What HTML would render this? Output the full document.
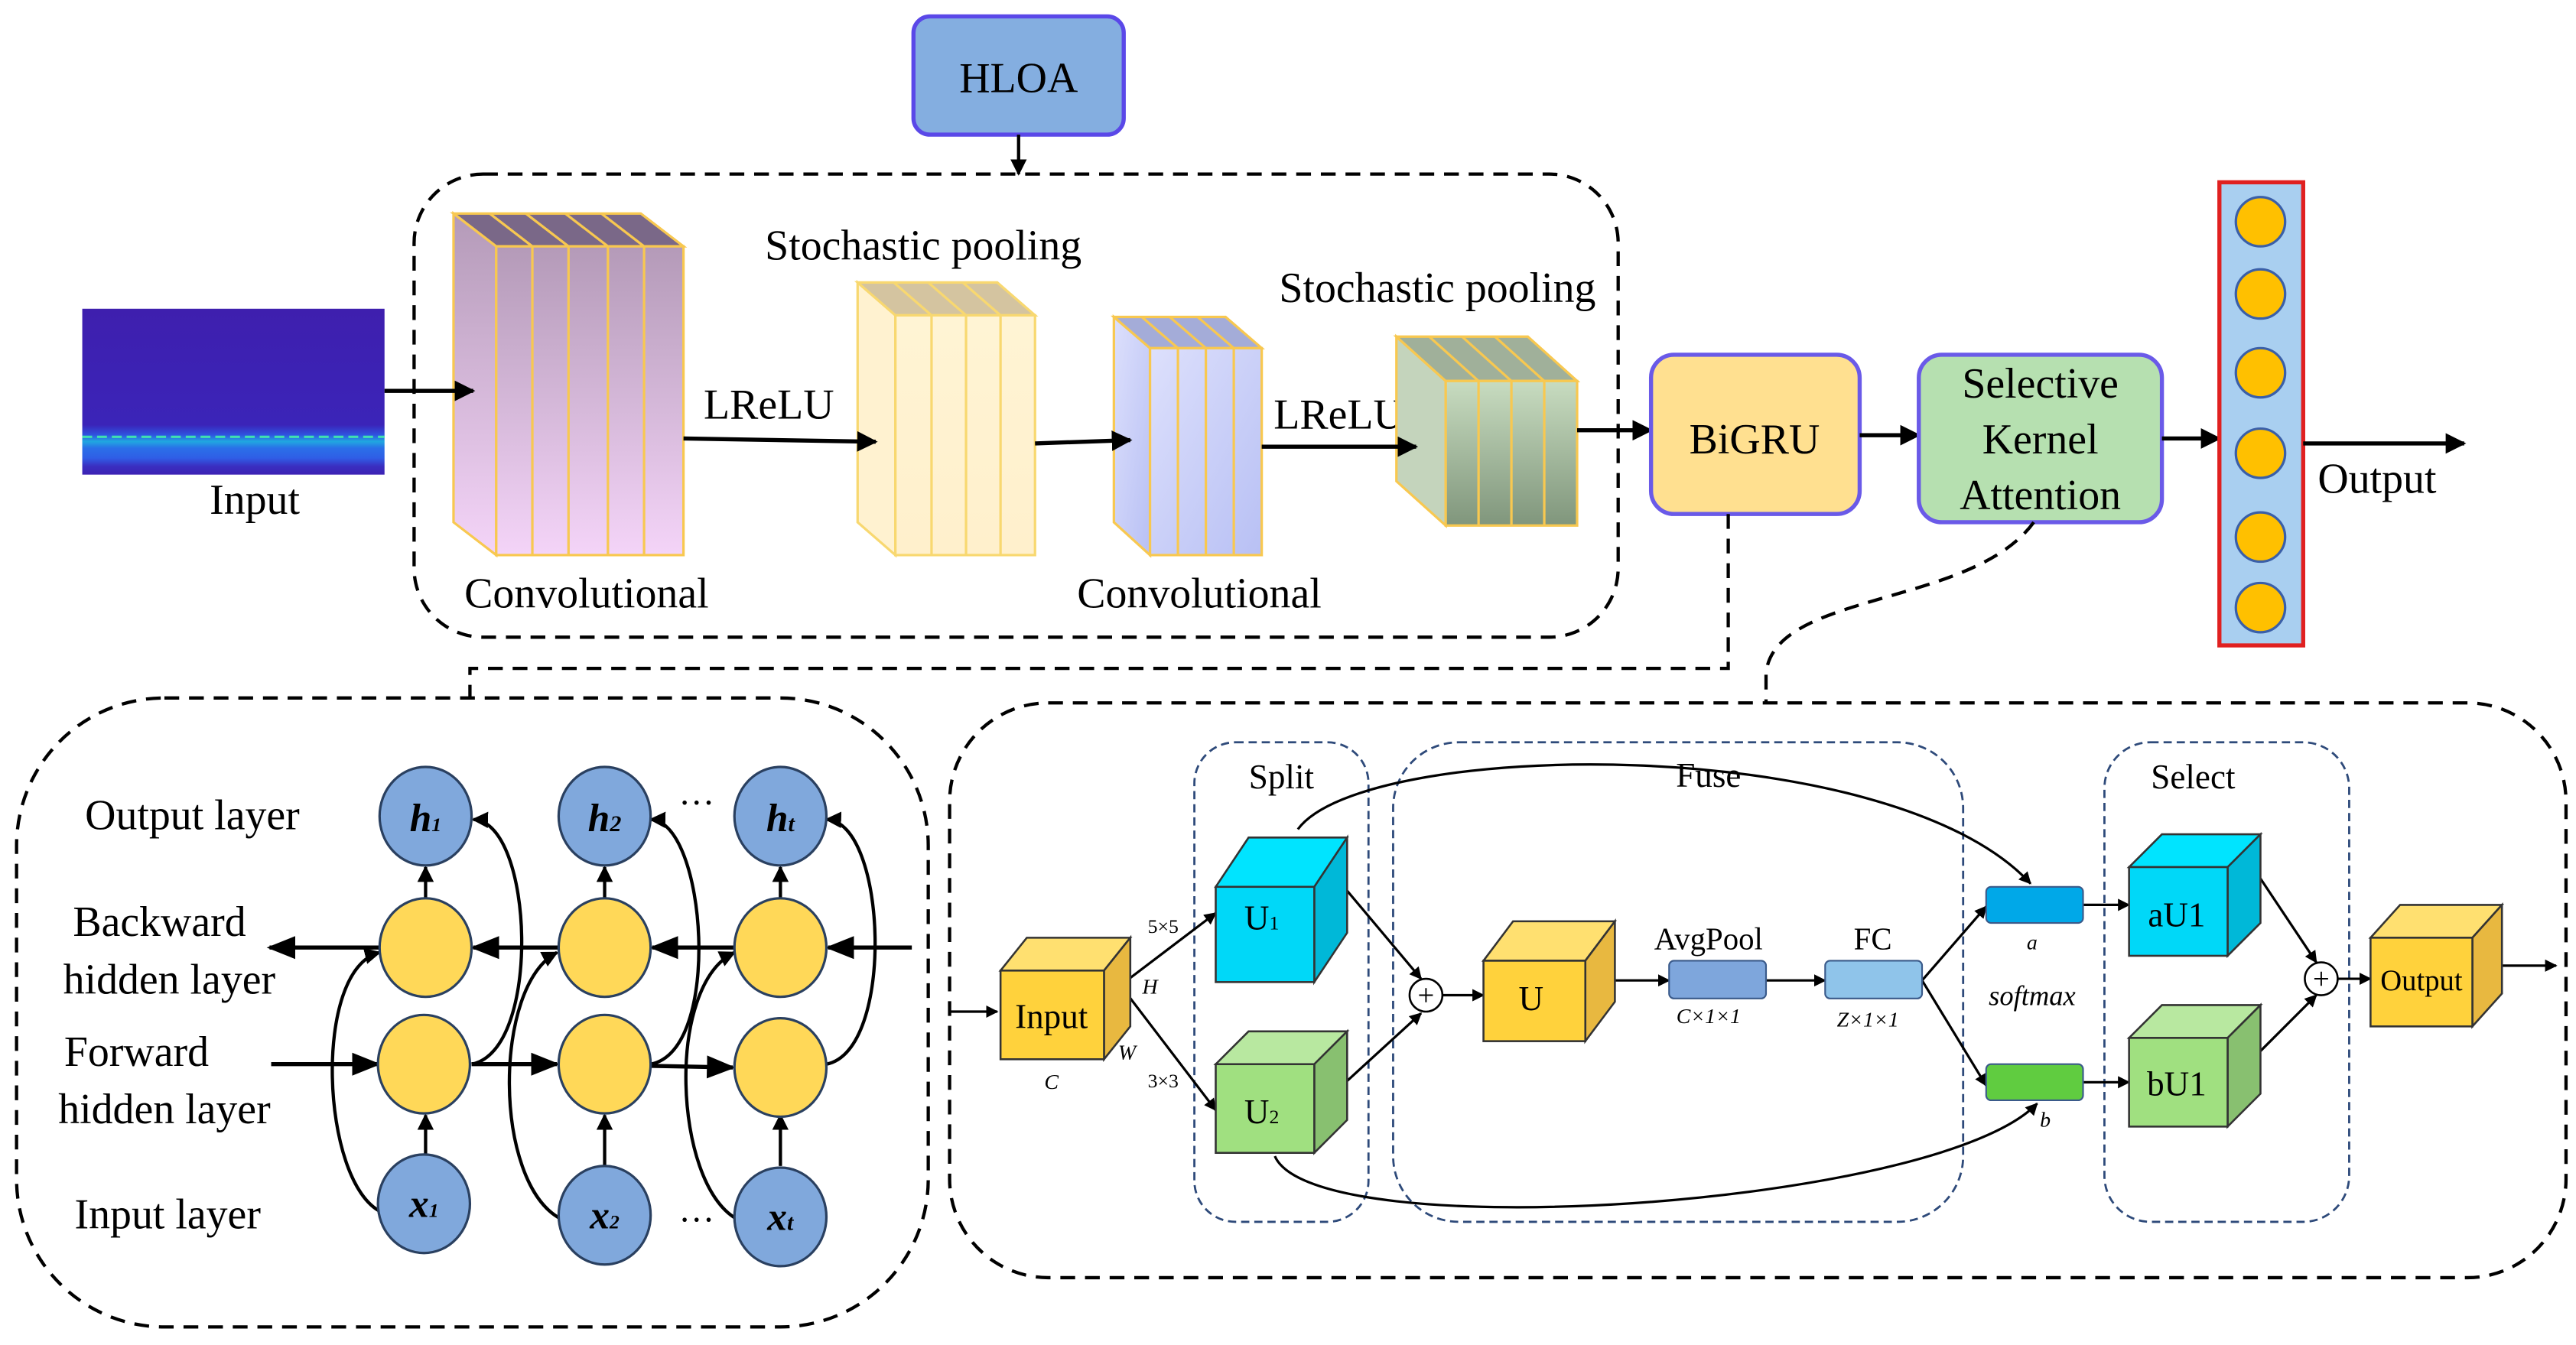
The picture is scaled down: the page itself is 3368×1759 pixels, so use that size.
<!DOCTYPE html>
<html><head><meta charset="utf-8"><style>html,body{margin:0;padding:0;background:#fff}svg{display:block}text{font-family:"Liberation Serif",serif}</style></head>
<body>
<svg width="3368" height="1759" viewBox="0 0 1568 819" xmlns="http://www.w3.org/2000/svg" style="font-family:'Liberation Serif',serif">
<defs>
<marker id="ar" viewBox="0 0 10 10" refX="9" refY="5" markerWidth="5" markerHeight="5" orient="auto"><path d="M0,0L10,5L0,10z" fill="#000"/></marker>
<marker id="as" viewBox="0 0 10 10" refX="9" refY="5" markerWidth="7" markerHeight="7" orient="auto"><path d="M0,1L10,5L0,9z" fill="#000"/></marker>
<linearGradient id="gc1" x1="0" y1="0" x2="0" y2="1"><stop offset="0" stop-color="#b49ab8"/><stop offset="1" stop-color="#f4d4f8"/></linearGradient>
<linearGradient id="gp1" x1="0" y1="0" x2="0" y2="1"><stop offset="0" stop-color="#fff4d4"/><stop offset="1" stop-color="#fff0cc"/></linearGradient>
<linearGradient id="gc2" x1="0" y1="0" x2="1" y2="1"><stop offset="0" stop-color="#dde0fc"/><stop offset="1" stop-color="#b8c0f4"/></linearGradient>
<linearGradient id="gp2" x1="0" y1="0" x2="0" y2="1"><stop offset="0" stop-color="#c8dcc0"/><stop offset="1" stop-color="#80967c"/></linearGradient>
<linearGradient id="spec" x1="0" y1="0" x2="0" y2="1"><stop offset="0" stop-color="#3e1fae"/><stop offset="0.7" stop-color="#3b24b8"/><stop offset="0.76" stop-color="#2f52e0"/><stop offset="0.8" stop-color="#20a8e0"/><stop offset="0.84" stop-color="#2a70e8"/><stop offset="0.9" stop-color="#2f5ee6"/><stop offset="0.95" stop-color="#3a2ec0"/><stop offset="1" stop-color="#3c22b4"/></linearGradient>
</defs>

<!-- HLOA -->
<rect x="556" y="10" width="128" height="72" rx="10" fill="#84aee0" stroke="#5a48e8" stroke-width="2.5"/>
<text x="620" y="56" font-size="26" text-anchor="middle">HLOA</text>
<line x1="620" y1="82" x2="620" y2="106" stroke="#000" stroke-width="2" marker-end="url(#ar)"/>

<!-- top dashed -->
<rect x="252" y="106" width="733" height="282" rx="42" fill="none" stroke="#000" stroke-width="2" stroke-dasharray="9,6"/>

<!-- input spectrogram -->
<rect x="50" y="188" width="184" height="101" fill="url(#spec)"/>
<line x1="50" y1="266" x2="234" y2="266" stroke="#40e0b0" stroke-width="1.5" stroke-dasharray="6,3"/>
<text x="155" y="313" font-size="26" text-anchor="middle">Input</text>

<!-- Conv1 -->
<g stroke="#f8c850" stroke-width="1.5">
<polygon points="276,130 302,150 302,338 276,318" fill="url(#gc1)"/>
<polygon points="276,130 390,130 416,150 302,150" fill="#7a6888"/>
<rect x="302" y="150" width="114" height="188" fill="url(#gc1)"/>
<line x1="324" y1="150" x2="324" y2="338"/><line x1="346" y1="150" x2="346" y2="338"/><line x1="370" y1="150" x2="370" y2="338"/><line x1="392" y1="150" x2="392" y2="338"/>
<line x1="298" y1="130" x2="324" y2="150"/><line x1="320" y1="130" x2="346" y2="150"/><line x1="344" y1="130" x2="370" y2="150"/><line x1="366" y1="130" x2="392" y2="150"/>
</g>
<text x="357" y="370" font-size="26" text-anchor="middle">Convolutional</text>
<text x="468" y="255" font-size="26" text-anchor="middle">LReLU</text>
<text x="562" y="158" font-size="26" text-anchor="middle">Stochastic pooling</text>

<!-- Pool1 -->
<g stroke="#f8d870" stroke-width="1.5">
<polygon points="522,172 545,192 545,338 522,318" fill="#fff2d0"/>
<polygon points="522,172 607,172 630,192 545,192" fill="#d4c4a0"/>
<rect x="545" y="192" width="85" height="146" fill="url(#gp1)"/>
<line x1="567" y1="192" x2="567" y2="338"/><line x1="588" y1="192" x2="588" y2="338"/><line x1="609" y1="192" x2="609" y2="338"/>
<line x1="544" y1="172" x2="567" y2="192"/><line x1="565" y1="172" x2="588" y2="192"/><line x1="586" y1="172" x2="609" y2="192"/>
</g>

<!-- Conv2 -->
<g stroke="#f8c850" stroke-width="1.5">
<polygon points="678,193 700,212 700,338 678,318" fill="url(#gc2)"/>
<polygon points="678,193 746,193 768,212 700,212" fill="#a4acd8"/>
<rect x="700" y="212" width="68" height="126" fill="url(#gc2)"/>
<line x1="717" y1="212" x2="717" y2="338"/><line x1="734" y1="212" x2="734" y2="338"/><line x1="751" y1="212" x2="751" y2="338"/>
<line x1="695" y1="193" x2="717" y2="212"/><line x1="712" y1="193" x2="734" y2="212"/><line x1="729" y1="193" x2="751" y2="212"/>
</g>
<text x="730" y="370" font-size="26" text-anchor="middle">Convolutional</text>
<text x="815" y="261" font-size="26" text-anchor="middle">LReLU</text>
<text x="875" y="184" font-size="26" text-anchor="middle">Stochastic pooling</text>

<!-- Pool2 -->
<g stroke="#f8c850" stroke-width="1.5">
<polygon points="850,205 880,232 880,320 850,293" fill="#c4d4bc"/>
<polygon points="850,205 930,205 960,232 880,232" fill="#a0b09a"/>
<rect x="880" y="232" width="80" height="88" fill="url(#gp2)"/>
<line x1="900" y1="232" x2="900" y2="320"/><line x1="920" y1="232" x2="920" y2="320"/><line x1="940" y1="232" x2="940" y2="320"/>
<line x1="870" y1="205" x2="900" y2="232"/><line x1="890" y1="205" x2="920" y2="232"/><line x1="910" y1="205" x2="940" y2="232"/>
</g>

<!-- top arrows (over blocks) -->
<g stroke="#000" stroke-width="2.5" marker-end="url(#ar)">
<line x1="234" y1="238" x2="288" y2="238"/>
<line x1="416" y1="267" x2="533" y2="269"/>
<line x1="630" y1="270" x2="688" y2="268"/>
<line x1="768" y1="272" x2="862" y2="272"/>
<line x1="960" y1="262" x2="1005" y2="262"/>
</g>

<!-- BiGRU -->
<rect x="1005" y="216" width="127" height="97" rx="14" fill="#ffe090" stroke="#6a5ae8" stroke-width="2.5"/>
<text x="1068" y="276" font-size="26" text-anchor="middle">BiGRU</text>
<line x1="1132" y1="265" x2="1168" y2="265" stroke="#000" stroke-width="2.5" marker-end="url(#ar)"/>

<!-- SKA -->
<rect x="1168" y="216" width="148" height="102" rx="14" fill="#b6e0b0" stroke="#6a5ae8" stroke-width="2.5"/>
<text x="1242" y="242" font-size="26" text-anchor="middle">Selective</text>
<text x="1242" y="276" font-size="26" text-anchor="middle">Kernel</text>
<text x="1242" y="310" font-size="26" text-anchor="middle">Attention</text>
<line x1="1316" y1="267" x2="1351" y2="267" stroke="#000" stroke-width="2.5" marker-end="url(#ar)"/>

<!-- Output column -->
<rect x="1351" y="111" width="51" height="282" fill="#a9cff0" stroke="#e02020" stroke-width="2.5"/>
<g fill="#ffc000" stroke="#3a5fa8" stroke-width="1.5">
<circle cx="1376" cy="135" r="15"/><circle cx="1376" cy="179" r="15"/><circle cx="1376" cy="227" r="15"/>
<circle cx="1376" cy="276" r="15"/><circle cx="1376" cy="327" r="15"/><circle cx="1376" cy="370" r="15"/>
</g>
<line x1="1402" y1="270" x2="1500" y2="270" stroke="#000" stroke-width="2.5" marker-end="url(#ar)"/>
<text x="1447" y="300" font-size="26" text-anchor="middle">Output</text>

<!-- dashed connectors -->
<path d="M1052,313 V407 H286 V425" fill="none" stroke="#000" stroke-width="2" stroke-dasharray="9,6"/>
<path d="M1238,318 C1200,370 1080,360 1075,410 V428" fill="none" stroke="#000" stroke-width="2" stroke-dasharray="9,6"/>

<!-- bottom left box -->
<rect x="10" y="425" width="555" height="383" rx="90" fill="none" stroke="#000" stroke-width="2" stroke-dasharray="9,6"/>
<g font-size="26" text-anchor="middle">
<text x="117" y="505">Output layer</text>
<text x="97" y="570">Backward</text>
<text x="103" y="605">hidden layer</text>
<text x="83" y="649">Forward</text>
<text x="100" y="684">hidden layer</text>
<text x="102" y="748">Input layer</text>
</g>
<g stroke="#000" stroke-width="2" fill="none">
<path d="M232,738 C195,720 190,590 231,580" marker-end="url(#ar)"/>
<path d="M341,742 C300,720 300,600 339,580" marker-end="url(#ar)"/>
<path d="M448,742 C410,720 405,600 447,580" marker-end="url(#ar)"/>
<path d="M287,648 C330,640 325,500 288,499" marker-end="url(#ar)"/>
<path d="M396,648 C440,640 430,500 396,499" marker-end="url(#ar)"/>
<path d="M503,648 C545,640 540,500 503,499" marker-end="url(#ar)"/>
</g>
<g stroke="#000" stroke-width="2.5" marker-end="url(#as)">
<line x1="555" y1="577" x2="504" y2="577"/><line x1="447" y1="577" x2="397" y2="577"/><line x1="340" y1="577" x2="288" y2="577"/><line x1="231" y1="577" x2="164" y2="577"/>
<line x1="165" y1="648" x2="230" y2="648"/><line x1="287" y1="648" x2="339" y2="648"/><line x1="396" y1="649" x2="446" y2="650"/>
</g>
<g stroke="#000" stroke-width="2" marker-end="url(#ar)">
<line x1="259" y1="705" x2="259" y2="679"/><line x1="368" y1="710" x2="368" y2="679"/><line x1="475" y1="710" x2="475" y2="679"/>
<line x1="259" y1="547" x2="259" y2="528"/><line x1="368" y1="547" x2="368" y2="528"/><line x1="475" y1="547" x2="475" y2="528"/>
</g>
<g fill="#ffd858" stroke="#2a4060" stroke-width="1.5">
<ellipse cx="259" cy="577" rx="28" ry="30"/><ellipse cx="368" cy="577" rx="28" ry="30"/><ellipse cx="475" cy="577" rx="28" ry="30"/>
<ellipse cx="258" cy="648" rx="28" ry="30"/><ellipse cx="368" cy="648" rx="28" ry="30"/><ellipse cx="475" cy="650" rx="28" ry="30"/>
</g>
<g fill="#80a8dc" stroke="#2a4060" stroke-width="1.5">
<ellipse cx="259" cy="497" rx="28" ry="30"/><ellipse cx="368" cy="497" rx="28" ry="30"/><ellipse cx="475" cy="497" rx="28" ry="30"/>
<ellipse cx="258" cy="733" rx="28" ry="30"/><ellipse cx="368" cy="740" rx="28" ry="30"/><ellipse cx="475" cy="741" rx="28" ry="30"/>
</g>
<g font-size="24" font-style="italic" font-weight="bold" text-anchor="middle">
<text x="259" y="506">h<tspan font-size="12">1</tspan></text>
<text x="368" y="506">h<tspan font-size="14">2</tspan></text>
<text x="475" y="506">h<tspan font-size="14">t</tspan></text>
<text x="258" y="741">x<tspan font-size="12">1</tspan></text>
<text x="368" y="748">x<tspan font-size="12">2</tspan></text>
<text x="475" y="749">x<tspan font-size="14">t</tspan></text>
</g>
<text x="424" y="496" font-size="22" text-anchor="middle">···</text>
<text x="424" y="750" font-size="22" text-anchor="middle">···</text>

<!-- bottom right box -->
<rect x="578" y="428" width="984" height="350" rx="60" fill="none" stroke="#000" stroke-width="2" stroke-dasharray="9,6"/>
<g fill="none" stroke="#2e4a7a" stroke-width="1.3" stroke-dasharray="5,3">
<rect x="727" y="452" width="106" height="292" rx="25"/>
<rect x="848" y="452" width="347" height="292" rx="40"/>
<rect x="1281" y="452" width="149" height="292" rx="28"/>
</g>
<g font-size="21" text-anchor="middle">
<text x="780" y="480">Split</text><text x="1040" y="479">Fuse</text><text x="1335" y="480">Select</text>
</g>

<!-- SK arrows -->
<g stroke="#000" stroke-width="1.5" fill="none" marker-end="url(#ar)">
<line x1="578" y1="616" x2="607" y2="616"/>
<line x1="682" y1="600" x2="740" y2="556"/>
<line x1="682" y1="600" x2="740" y2="676"/>
<line x1="818" y1="540" x2="865" y2="596"/>
<line x1="818" y1="660" x2="865" y2="617"/>
<line x1="878" y1="606" x2="903" y2="606"/>
<line x1="983" y1="597" x2="1016" y2="597"/>
<line x1="1075" y1="597" x2="1111" y2="597"/>
<line x1="1170" y1="597" x2="1209" y2="552"/>
<line x1="1170" y1="597" x2="1209" y2="661"/>
<line x1="1268" y1="551" x2="1296" y2="551"/>
<line x1="1268" y1="659" x2="1296" y2="659"/>
<line x1="1376" y1="535" x2="1410" y2="586"/>
<line x1="1376" y1="640" x2="1410" y2="606"/>
<line x1="1423" y1="596" x2="1443" y2="596"/>
<line x1="1522" y1="588" x2="1556" y2="588"/>
<path d="M790,505 C830,450 1150,445 1236,538"/>
<path d="M776,704 C800,760 1180,735 1240,672"/>
</g>
<circle cx="868" cy="606" r="10" fill="#fff" stroke="#000" stroke-width="1.2"/>
<text x="868" y="612" font-size="18" text-anchor="middle">+</text>
<circle cx="1413" cy="596" r="10" fill="#fff" stroke="#000" stroke-width="1.2"/>
<text x="1413" y="602" font-size="18" text-anchor="middle">+</text>

<!-- cubes -->
<g stroke="#333" stroke-width="1.2">
<polygon points="609,591 625,571 688,571 672,591" fill="#ffe070"/>
<polygon points="672,591 688,571 688,625 672,645" fill="#e8b840"/>
<rect x="609" y="591" width="63" height="54" fill="#ffd23c"/>
<polygon points="740,540 760,510 820,510 800,540" fill="#00e4ff"/>
<polygon points="800,540 820,510 820,568 800,598" fill="#00b8d8"/>
<rect x="740" y="540" width="60" height="58" fill="#00d8f8"/>
<polygon points="740,648 760,628 820,628 800,648" fill="#b8e8a0"/>
<polygon points="800,648 820,628 820,682 800,702" fill="#88c070"/>
<rect x="740" y="648" width="60" height="54" fill="#a0e080"/>
<polygon points="903,585 921,561 983,561 965,585" fill="#ffe070"/>
<polygon points="965,585 983,561 983,610 965,634" fill="#e8b840"/>
<rect x="903" y="585" width="62" height="49" fill="#ffd23c"/>
<polygon points="1296,528 1316,508 1376,508 1356,528" fill="#00e4ff"/>
<polygon points="1356,528 1376,508 1376,562 1356,582" fill="#00b8d8"/>
<rect x="1296" y="528" width="60" height="54" fill="#00d8f8"/>
<polygon points="1296,632 1316,612 1376,612 1356,632" fill="#b8e8a0"/>
<polygon points="1356,632 1376,612 1376,666 1356,686" fill="#88c070"/>
<rect x="1296" y="632" width="60" height="54" fill="#a0e080"/>
<polygon points="1443,571 1461,551 1523,551 1505,571" fill="#ffe070"/>
<polygon points="1505,571 1523,551 1523,605 1505,625" fill="#e8b840"/>
<rect x="1443" y="571" width="62" height="54" fill="#ffd23c"/>
</g>
<g stroke="#3a5a8a" stroke-width="1">
<rect x="1016" y="585" width="59" height="23" rx="3" fill="#7ea6dc"/>
<rect x="1111" y="585" width="59" height="23" rx="3" fill="#8fc4ea"/>
<rect x="1209" y="540" width="59" height="22" rx="3" fill="#00a8e8"/>
<rect x="1209" y="648" width="59" height="22" rx="3" fill="#60cc40"/>
</g>
<g text-anchor="middle">
<text x="640" y="626" font-size="21">Input</text>
<text x="768" y="566" font-size="21">U<tspan font-size="12">1</tspan></text>
<text x="768" y="684" font-size="21">U<tspan font-size="12">2</tspan></text>
<text x="932" y="615" font-size="21">U</text>
<text x="1325" y="564" font-size="21">aU1</text>
<text x="1325" y="667" font-size="21">bU1</text>
<text x="1474" y="603" font-size="18">Output</text>
<text x="1040" y="578" font-size="19">AvgPool</text>
<text x="1040" y="623" font-size="13" font-style="italic">C×1×1</text>
<text x="1140" y="578" font-size="19">FC</text>
<text x="1137" y="625" font-size="13" font-style="italic">Z×1×1</text>
<text x="1237" y="578" font-size="13" font-style="italic">a</text>
<text x="1245" y="686" font-size="13" font-style="italic">b</text>
<text x="1237" y="612" font-size="17" font-style="italic">softmax</text>
<text x="640" y="663" font-size="13" font-style="italic">C</text>
<text x="700" y="605" font-size="13" font-style="italic">H</text>
<text x="686" y="645" font-size="13" font-style="italic">W</text>
<text x="708" y="568" font-size="12">5×5</text>
<text x="708" y="662" font-size="12">3×3</text>
</g>
</svg>
</body></html>
